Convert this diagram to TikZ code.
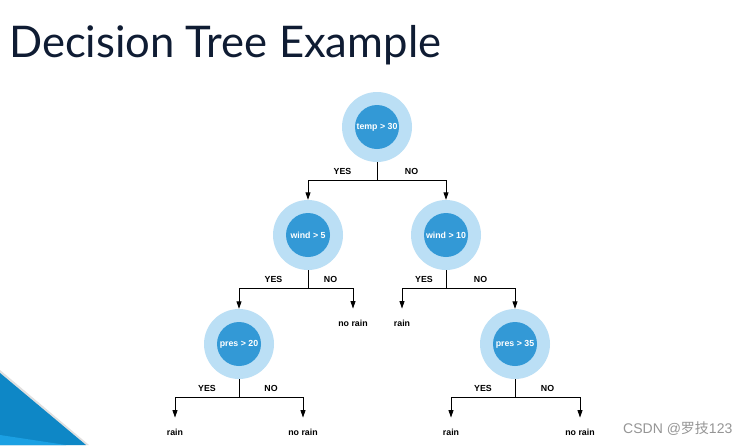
\documentclass[tikz,border=0pt]{standalone}
\usepackage{fontspec}
\setmainfont{Liberation Sans}
\newfontfamily\titlefont{Lato}
\newfontfamily\cjk{Noto Sans CJK SC}
\usetikzlibrary{arrows.meta}
\definecolor{colorring}{HTML}{BBDFF5}
\definecolor{colorcore}{HTML}{3399D6}
\definecolor{colortitle}{HTML}{0F1C33}
\definecolor{colorband}{HTML}{0E87C6}
\definecolor{colorbandlt}{HTML}{1BA0E3}
\definecolor{colormark}{HTML}{959595}
\tikzset{
  test/.style={circle, fill=colorring, minimum size=70pt, inner sep=0pt, text=white,
    path picture={\fill[colorcore] (path picture bounding box.center) circle (22pt);}},
  leaf/.style={inner sep=0pt},
  lbl/.style={above, inner sep=5.5pt, pos=0.25},
  edgestem/.style={black, line width=0.9pt},
  edgebr/.style={black, line width=0.9pt, -{Triangle[width=5pt,length=7.5pt]}},
  edgeleaf/.style={edgebr, shorten >=11pt}
}

\begin{document}
\begin{tikzpicture}[x=1pt, y=-1pt, font=\bfseries\fontsize{8.8}{10}\selectfont]
\fill[white] (0,0) rectangle (751,445);
\fill[black!12] (0,370) -- (89,445) -- (0,445) -- cycle;
\fill[colorband] (0,373) -- (86,445) -- (0,445) -- cycle;
\fill[colorbandlt] (0,435) -- (66,445) -- (0,445) -- cycle;
\node[anchor=base west, inner sep=0pt, text=colortitle,
  font=\titlefont\fontsize{43.6}{50}\selectfont] (title) at (9,57) {Decision Tree Example};
\node[test] (t) at (377,127) {temp > 30};
\node[test] (w5) at (308,235) {wind > 5};
\node[test] (w10) at (446,235) {wind > 10};
\node[test] (p20) at (239,344) {pres > 20};
\node[test] (p35) at (515,344) {pres > 35};
\node[leaf] (nr1) at (353,323) {no rain};
\node[leaf] (r1) at (402,323) {rain};
\node[leaf] (r2) at (175,432) {rain};
\node[leaf] (nr2) at (303,432) {no rain};
\node[leaf] (r3) at (451,432) {rain};
\node[leaf] (nr3) at (580,432) {no rain};
\draw[edgestem] (t.south) -- ++(0,18.5) coordinate (tj);
\draw[edgestem] (w5.south) -- ++(0,18.5) coordinate (w5j);
\draw[edgestem] (w10.south) -- ++(0,18.5) coordinate (w10j);
\draw[edgestem] (p20.south) -- ++(0,18.5) coordinate (p20j);
\draw[edgestem] (p35.south) -- ++(0,18.5) coordinate (p35j);
\draw[edgebr] (tj) -| node[lbl] {YES} (w5.north);
\draw[edgebr] (tj) -| node[lbl] {NO} (w10.north);
\draw[edgebr] (w5j) -| node[lbl] {YES} (p20.north);
\draw[edgeleaf] (w5j) -| node[lbl] {NO} (nr1.north);
\draw[edgeleaf] (w10j) -| node[lbl] {YES} (r1.north);
\draw[edgebr] (w10j) -| node[lbl] {NO} (p35.north);
\draw[edgeleaf] (p20j) -| node[lbl] {YES} (r2.north);
\draw[edgeleaf] (p20j) -| node[lbl] {NO} (nr2.north);
\draw[edgeleaf] (p35j) -| node[lbl] {YES} (r3.north);
\draw[edgeleaf] (p35j) -| node[lbl] {NO} (nr3.north);
\node[anchor=base west, inner sep=0pt, text=colormark,
  font=\mdseries\fontsize{14}{16}\selectfont] (mark) at (623,433) {CSDN @{\cjk 罗技}123};
\end{tikzpicture}
\end{document}
